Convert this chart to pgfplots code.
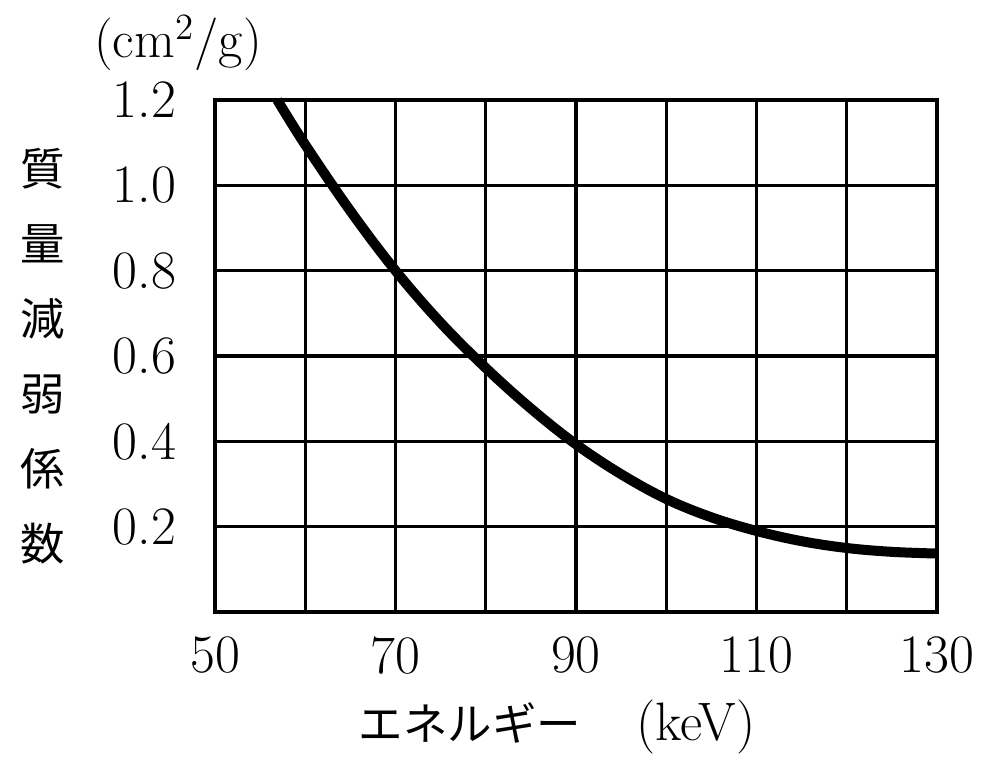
\documentclass[border=0pt]{standalone}
\usepackage{fontspec}
\usepackage{pgfplots}
\pgfplotsset{compat=1.18}
\newfontfamily\cjk{Noto Sans CJK JP}
\begin{document}
\begin{tikzpicture}[x=1pt,y=1pt]
\def\u{0.36pt}
\begin{axis}[
  name=ax,
  scale only axis,
  width=259.92pt, height=184.32pt,
  xmin=50, xmax=130, ymin=0, ymax=1.2,
  xtick={50,60,...,130},
  xticklabels={50,,70,,90,,110,,130},
  ytick={0,0.2,0.4,0.6,0.8,1.0,1.2},
  yticklabels={,0.2,0.4,0.6,0.8,1.0,1.2},
  major tick length=0pt,
  grid=major,
  grid style={black, line width=1.15pt},
  axis line style={black, line width=1.4pt},
  tick label style={font=\fontsize{19.5}{21}\selectfont},
  yticklabel style={anchor=east, xshift=-10.5pt},
  xticklabel style={anchor=north, yshift=-5.5pt},
  clip=false,
]
\addplot[black, line width=3.6pt, smooth, tension=0.6] coordinates {
  (56.9,1.2) (60,1.095) (65,0.94) (70,0.80) (75,0.678) (80,0.572)
  (85,0.477) (90,0.393) (95,0.323) (100,0.265) (105,0.222) (110,0.19)
  (115,0.166) (120,0.150) (125,0.141) (130,0.137)
};
\coordinate (bl) at (rel axis cs:0,0);
\coordinate (tr) at (rel axis cs:1,1);
\node[font=\cjk\fontsize{16}{27}\selectfont, align=center, inner sep=0pt]
  at ([xshift=-172*\u]rel axis cs:0,0.5) {質\\量\\減\\弱\\係\\数};
\node[font=\fontsize{19}{21}\selectfont, inner sep=0pt]
  at ([xshift=-37*\u, yshift=57*\u]rel axis cs:0,1) {(cm\textsuperscript{2}/g)};
\node[font=\fontsize{19.5}{21}\selectfont, inner sep=0pt]
  at ([xshift=342*\u, yshift=-115*\u]rel axis cs:0,0) {{\cjk\fontsize{16}{20}\selectfont エネルギー}\hspace{20pt}(keV)};
\end{axis}
\pgfresetboundingbox
\path[use as bounding box] ([xshift=-215*\u, yshift=-160*\u]bl) rectangle ([xshift=63*\u, yshift=100*\u]tr);
\end{tikzpicture}
\end{document}
